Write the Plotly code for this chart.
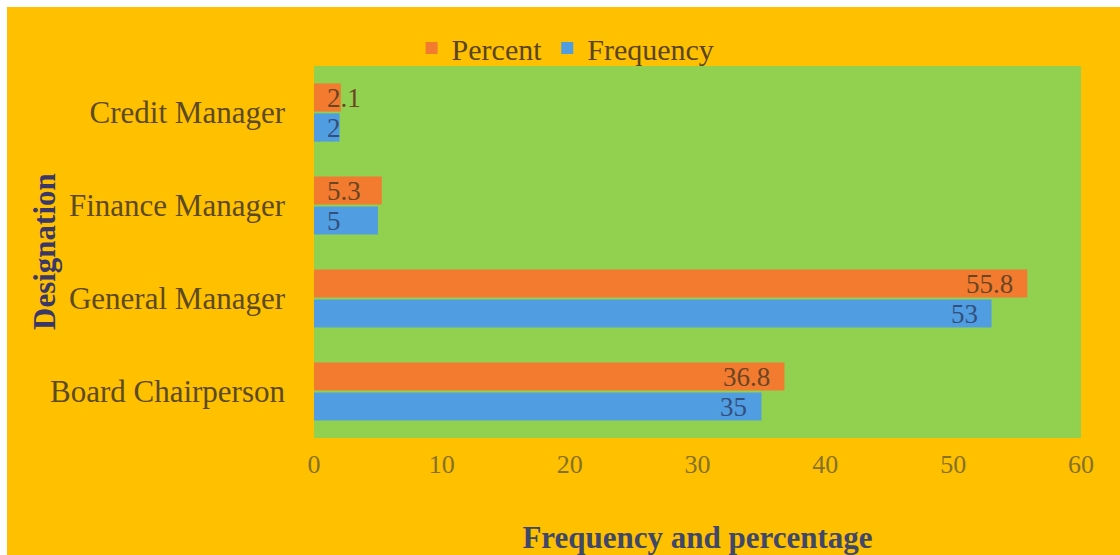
import plotly.graph_objects as go

categories = ["Board Chairperson", "General Manager", "Finance Manager", "Credit Manager"]
frequency = [35, 53, 5, 2]
percent = [36.8, 55.8, 5.3, 2.1]
x_ticks = [0, 10, 20, 30, 40, 50, 60]

ORANGE_BG = "#FFC000"
GREEN = "#92D050"
BAR_ORANGE = "#F27B30"
BAR_BLUE = "#509DE2"
SERIF = "Liberation Serif, Times New Roman, serif"

L, R, T, B = 314, 39, 66, 117
W, H = 1120, 555
pw, ph = W - L - R, H - T - B

fig = go.Figure()
fig.add_trace(go.Bar(name="Frequency", y=categories, x=frequency, orientation="h",
                     marker=dict(color=BAR_BLUE, line=dict(width=0)), legendrank=2))
fig.add_trace(go.Bar(name="Percent", y=categories, x=percent, orientation="h",
                     marker=dict(color=BAR_ORANGE, line=dict(width=0)), legendrank=1))

# data labels (inside end; small bars labelled from the base)
def add_labels(vals, shift, color):
    for c, v in zip(categories, vals):
        small = v < 6
        fig.add_annotation(x=0 if small else v, y=c, text=f"{v:g}", showarrow=False,
                           xanchor="left" if small else "right", yanchor="middle",
                           xshift=11 if small else -12, yshift=shift,
                           font=dict(family=SERIF, size=27, color=color))

add_labels(frequency, -15, "#33507C")
add_labels(percent, 15, "#6B4523")

fig.add_annotation(text="<b>Designation</b>", xref="paper", yref="paper",
                   x=(44 - L) / pw, y=0.5, xanchor="center", yanchor="middle",
                   textangle=-90, showarrow=False,
                   font=dict(family=SERIF, size=31, color="#3A3868"))

# thin white border at top and left
fig.add_shape(type="rect", xref="paper", yref="paper", x0=-L / pw - 0.1, x1=(7 - L) / pw,
              y0=-B / ph - 0.1, y1=1 + T / ph + 0.1, fillcolor="white", line=dict(width=0), layer="below")
fig.add_shape(type="rect", xref="paper", yref="paper", x0=-L / pw - 0.1, x1=1 + R / pw + 0.1,
              y0=1 + (T - 7) / ph, y1=1 + T / ph + 0.1, fillcolor="white", line=dict(width=0), layer="below")

fig.update_layout(
    width=W, height=H,
    margin=dict(l=L, r=R, t=T, b=B, pad=0, autoexpand=False),
    paper_bgcolor=ORANGE_BG, plot_bgcolor=GREEN,
    barmode="group", bargap=0.355, bargroupgap=0.06,
    font=dict(family=SERIF),
    showlegend=True,
    legend=dict(orientation="h", xref="container", yref="container",
                x=0.505, y=1 - 48 / H, xanchor="center", yanchor="middle",
                font=dict(family=SERIF, size=30, color="#5A4520"),
                bgcolor="rgba(0,0,0,0)", itemwidth=30, traceorder="normal"),
    xaxis=dict(range=[0, 60], tickvals=x_ticks, showgrid=False, zeroline=False,
               showline=False, ticks="", ticklabelstandoff=8,
               tickfont=dict(family=SERIF, size=26, color="#857128"),
               title=dict(text="<b>Frequency and percentage</b>", standoff=50,
                          font=dict(family=SERIF, size=31, color="#3F4868"))),
    yaxis=dict(categoryorder="array", categoryarray=categories, showgrid=False,
               zeroline=False, showline=False, ticks="", ticklabelstandoff=28,
               tickfont=dict(family=SERIF, size=31, color="#5C4A22")),
)

fig.write_html("out.html")
